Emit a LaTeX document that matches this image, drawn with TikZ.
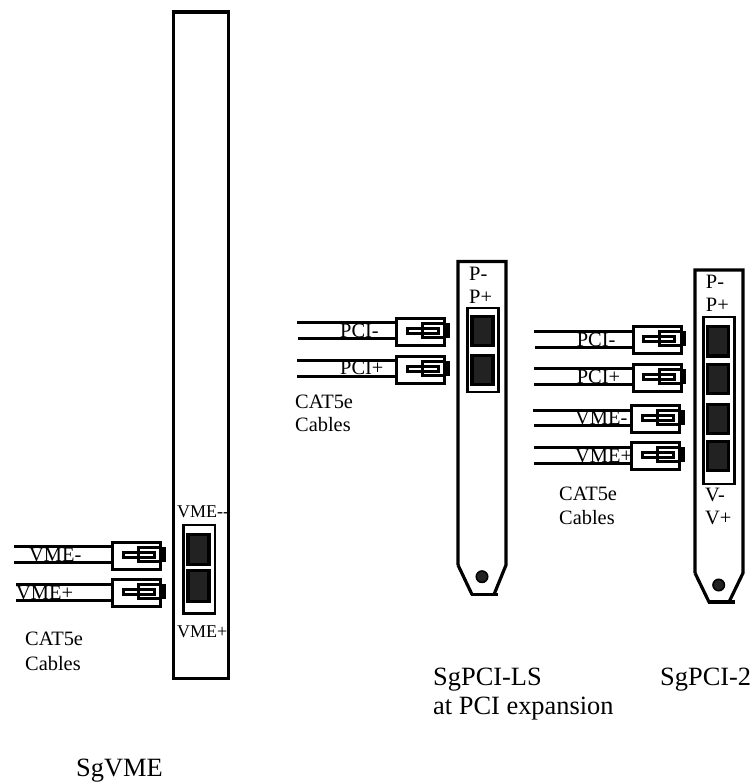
\documentclass[tikz,border=0pt]{standalone}
\usepackage{fontspec}
\setmainfont{Liberation Serif}
\usepackage{tikz}
\usetikzlibrary{calc}
\definecolor{pinfill}{HTML}{222222}
\tikzset{
  cardline/.style={draw=black, line width=3.2pt, line join=miter},
  portframe/.style={draw=black, fill=white, line width=2.8pt, inner sep=0pt},
  pinblock/.style={draw=black, fill=pinfill, line width=3.2pt, inner sep=0pt,
                   minimum width=21pt},
  holedot/.style={circle, draw=black, fill=pinfill, line width=1.5pt,
                  minimum size=11.5pt, inner sep=0pt},
  plugbox/.style={draw=black, fill=white, line width=3pt, inner sep=0pt,
                  minimum width=48pt, minimum height=27pt},
  cable/.style={draw=black, line width=3pt},
  tag/.style={anchor=base west, inner sep=0pt, font=\fontsize{20.4}{20.4}\selectfont},
  cardtag/.style={anchor=base west, inner sep=0pt, font=\fontsize{18}{18}\selectfont},
  caption/.style={anchor=base west, inner sep=0pt, font=\fontsize{26.4}{26.4}\selectfont}
}
\newcommand{\plugparts}[1]{%
  \begin{scope}[shift={(#1)}]
    \draw[black,line width=3pt] (-13.5,-3.5) rectangle (17.5,1.5);
    \draw[black,line width=3pt] (2,-8.2) rectangle (24,5.8);
    \fill[black] (24,-8.7) rectangle (29,6.3);
  \end{scope}}

\begin{document}
\begin{tikzpicture}[x=1pt,y=-1pt]
  \useasboundingbox (0,0) rectangle (751,782);
  % SgVME
  \draw[cardline] (173.5,12) rectangle (228.5,678.5);
  \node[portframe,minimum width=31.5pt,minimum height=88.5pt] (vmeport) at (199.25,569.25) {};
  \node[pinblock,minimum height=30pt] (vmepinA) at (198.5,549.5) {};
  \node[pinblock,minimum height=31pt] (vmepinB) at (198.5,586) {};
  \node[cardtag] (vmeminus) at (177,517.7) {VME-{}-};
  \node[cardtag] (vmeplus) at (177,637) {VME+};
  \coordinate (vmeAup) at (14,546.5);
  \coordinate (vmeAlo) at (14,562);
  \coordinate (vmeBup) at (16,584.5);
  \coordinate (vmeBlo) at (16,600);
  \node[tag] (vmeAtag) at (29,561) {VME-};
  \node[tag] (vmeBtag) at (16,599) {VME+};
  \node[plugbox] (vmeA) at (136.75,555.75) {};
  \node[plugbox] (vmeB) at (136.75,593) {};
  \draw[cable] (vmeAup) -- (vmeAup -| vmeA.west);
  \draw[cable] (vmeAlo) -- (vmeAlo -| vmeA.west);
  \draw[cable] (vmeBup) -- (vmeBup -| vmeB.west);
  \draw[cable] (vmeBlo) -- (vmeBlo -| vmeB.west);
  \plugparts{vmeA}
  \plugparts{vmeB}
  \node[tag] (vmecat) at (25,645) {CAT5e};
  \node[tag] (vmecab) at (25,670.7) {Cables};
  \node[caption] (vmename) at (76,776) {SgVME};

  % SgPCI-LS
  \draw[cardline] (458,565) -- (458,261.5) -- (506,261.5) -- (506,565) -- (494,594.5);
  \draw[cardline] (458,565) -- (472,594.5);
  \draw[cardline] (471,594.5) -- (498,594.5);
  \node[holedot] (lshole) at (482,576.7) {};
  \node[portframe,minimum width=31pt,minimum height=84pt] (lsport) at (483,350) {};
  \node[pinblock,minimum height=29pt] (lspinA) at (482.5,331) {};
  \node[pinblock,minimum height=29pt] (lspinB) at (482.5,370) {};
  \node[tag] (lsminus) at (469,280) {P-};
  \node[tag] (lsplus) at (469,303) {P+};
  \coordinate (lsAup) at (297,322.3);
  \coordinate (lsAlo) at (298,338.3);
  \coordinate (lsBup) at (297,360);
  \coordinate (lsBlo) at (297,376.7);
  \node[tag] (lsAtag) at (340,337) {PCI-};
  \node[tag] (lsBtag) at (340,374) {PCI+};
  \node[plugbox] (lsA) at (420.7,331.5) {};
  \node[plugbox] (lsB) at (420.7,369.5) {};
  \draw[cable] (lsAup) -- (lsAup -| lsA.west);
  \draw[cable] (lsAlo) -- (lsAlo -| lsA.west);
  \draw[cable] (lsBup) -- (lsBup -| lsB.west);
  \draw[cable] (lsBlo) -- (lsBlo -| lsB.west);
  \plugparts{lsA}
  \plugparts{lsB}
  \node[tag] (lscat) at (295,408) {CAT5e};
  \node[tag] (lscab) at (295,431) {Cables};
  \node[caption] (lsname) at (433,685) {SgPCI-LS};
  \node[caption] (lsnameb) at (433,714) {at PCI expansion};

  % SgPCI-2
  \draw[cardline] (695,573) -- (695,270) -- (743,270) -- (743,573) -- (729,602);
  \draw[cardline] (695,573) -- (709,602);
  \draw[cardline] (708,602) -- (735,602);
  \node[holedot] (twohole) at (718.7,585) {};
  \node[portframe,minimum width=31pt,minimum height=167pt] (twoport) at (719,400.5) {};
  \node[pinblock,minimum height=29.5pt] (twopinA) at (718,341.3) {};
  \node[pinblock,minimum height=29pt] (twopinB) at (718,379) {};
  \node[pinblock,minimum height=29pt] (twopinC) at (718,419) {};
  \node[pinblock,minimum height=29pt] (twopinD) at (718,456) {};
  \node[tag] (twopm) at (705.7,288) {P-};
  \node[tag] (twopp) at (705.7,311.7) {P+};
  \node[tag] (twovm) at (705,501.7) {V-};
  \node[tag] (twovp) at (705,524.3) {V+};
  \coordinate (twoAup) at (534,331.7);
  \coordinate (twoAlo) at (535,347.7);
  \coordinate (twoBup) at (534,368.3);
  \coordinate (twoBlo) at (534,384.3);
  \coordinate (twoCup) at (533,410);
  \coordinate (twoClo) at (534,425.7);
  \coordinate (twoDup) at (534,447.3);
  \coordinate (twoDlo) at (534,463.3);
  \node[tag] (twoAtag) at (576.7,346.7) {PCI-};
  \node[tag] (twoBtag) at (576.7,383) {PCI+};
  \node[tag] (twoCtag) at (575,424) {VME-};
  \node[tag] (twoDtag) at (575,462) {VME+};
  \node[plugbox] (twoA) at (657,340) {};
  \node[plugbox] (twoB) at (657,377.5) {};
  \node[plugbox] (twoC) at (655.5,419) {};
  \node[plugbox] (twoD) at (655.5,456) {};
  \draw[cable] (twoAup) -- (twoAup -| twoA.west);
  \draw[cable] (twoAlo) -- (twoAlo -| twoA.west);
  \draw[cable] (twoBup) -- (twoBup -| twoB.west);
  \draw[cable] (twoBlo) -- (twoBlo -| twoB.west);
  \draw[cable] (twoCup) -- (twoCup -| twoC.west);
  \draw[cable] (twoClo) -- (twoClo -| twoC.west);
  \draw[cable] (twoDup) -- (twoDup -| twoD.west);
  \draw[cable] (twoDlo) -- (twoDlo -| twoD.west);
  \plugparts{twoA}
  \plugparts{twoB}
  \plugparts{twoC}
  \plugparts{twoD}
  \node[tag] (twocat) at (559,500) {CAT5e};
  \node[tag] (twocab) at (559,524) {Cables};
  \node[caption] (twoname) at (660,685) {SgPCI-2};
\end{tikzpicture}
\end{document}
